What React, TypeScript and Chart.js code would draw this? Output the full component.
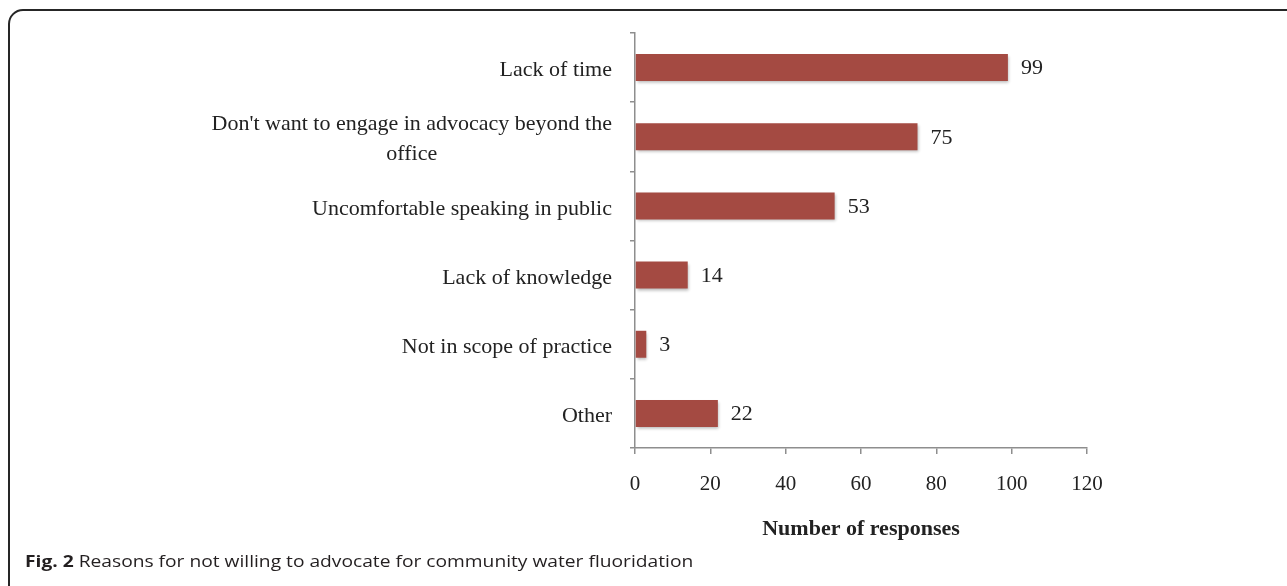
import React, { useEffect, useRef } from "react";
import { Chart, registerables } from "chart.js";

Chart.register(...registerables);

const categories: string[][] = [
  ["Lack of time"],
  ["Don't want to engage in advocacy beyond the", "office"],
  ["Uncomfortable speaking in public"],
  ["Lack of knowledge"],
  ["Not in scope of practice"],
  ["Other"],
];
const responses: number[] = [99, 75, 53, 14, 3, 22];
const xTicks: number[] = [0, 20, 40, 60, 80, 100, 120];
const xTitle = "Number of responses";
const captionBold = "Fig. 2";
const captionText = " Reasons for not willing to advocate for community water fluoridation";

const SERIF = "'Liberation Serif', 'Times New Roman', serif";
const TEXT = "#222222";
const BAR = "#A44A42";
const AXIS = "#8E8E8E";

const shadowPlugin = {
  id: "barShadow",
  beforeDatasetsDraw(chart: any) {
    const ctx = chart.ctx;
    ctx.save();
    ctx.shadowColor = "rgba(0,0,0,0.28)";
    ctx.shadowBlur = 3;
    ctx.shadowOffsetX = 1;
    ctx.shadowOffsetY = 2;
  },
  afterDatasetsDraw(chart: any) {
    chart.ctx.restore();
  },
};

const labelPlugin = {
  id: "customLabels",
  afterDraw(chart: any) {
    const ctx = chart.ctx;
    const yScale = chart.scales.y;
    const meta = chart.getDatasetMeta(0);
    ctx.save();
    ctx.fillStyle = TEXT;
    ctx.font = `22px ${SERIF}`;
    ctx.textBaseline = "middle";
    const right = yScale.right - 23;
    const lh = 30;
    categories.forEach((lines, i) => {
      const yc = yScale.getPixelForTick(i);
      const widths = lines.map((l) => ctx.measureText(l).width);
      const maxW = Math.max(...widths);
      const cx = right - maxW / 2;
      const y0 = yc - ((lines.length - 1) * lh) / 2 + 2;
      lines.forEach((l, j) => {
        ctx.textAlign = lines.length > 1 ? "center" : "right";
        ctx.fillText(l, lines.length > 1 ? cx : right, y0 + j * lh + (lines.length > 1 ? 0 : 1));
      });
    });
    // data labels
    ctx.textAlign = "left";
    meta.data.forEach((bar: any, i: number) => {
      ctx.fillText(String(responses[i]), bar.x + 13, bar.y + 1);
    });
    ctx.restore();
  },
};

export default function App() {
  const canvasRef = useRef<HTMLCanvasElement | null>(null);

  useEffect(() => {
    if (!canvasRef.current) return;
    const chart = new Chart(canvasRef.current, {
      type: "bar",
      data: {
        labels: categories.map((c) => c.join(" ")),
        datasets: [
          {
            data: responses,
            backgroundColor: BAR,
            borderWidth: 0,
            barPercentage: 0.39,
            categoryPercentage: 1,
          },
        ],
      },
      plugins: [shadowPlugin, labelPlugin],
      options: {
        indexAxis: "y",
        animation: false,
        responsive: false,
        maintainAspectRatio: false,
        layout: { padding: { left: 0, right: 200, top: 33, bottom: 43 } },
        plugins: {
          legend: { display: false },
          tooltip: { enabled: false },
          title: { display: false },
        },
        scales: {
          x: {
            type: "linear",
            min: xTicks[0],
            max: xTicks[xTicks.length - 1],
            afterBuildTicks: (scale: any) => {
              scale.ticks = xTicks.map((v) => ({ value: v }));
            },
            afterFit: (scale: any) => {
              scale.height = 95;
            },
            grid: {
              drawOnChartArea: false,
              drawTicks: true,
              tickLength: 6,
              color: AXIS,
              lineWidth: 1.5,
            },
            border: { color: AXIS, width: 1.5 },
            ticks: {
              color: TEXT,
              font: { family: SERIF, size: 21 },
              padding: 18,
              maxRotation: 0,
            },
            title: {
              display: true,
              text: xTitle,
              color: TEXT,
              font: { family: SERIF, size: 22, weight: "bold" },
              padding: { top: 0, bottom: 0 },
            },
          },
          y: {
            type: "category",
            afterFit: (scale: any) => {
              scale.width = 635;
            },
            grid: {
              drawOnChartArea: false,
              drawTicks: true,
              tickLength: 5,
              color: AXIS,
              lineWidth: 1.5,
              offset: true,
            },
            border: { color: AXIS, width: 1.5 },
            ticks: { display: false },
          },
        },
      } as any,
    });
    return () => chart.destroy();
  }, []);

  return (
    <div
      style={{
        position: "absolute",
        left: 0,
        top: 0,
        width: 1287,
        height: 586,
        background: "#ffffff",
        overflow: "hidden",
      }}
    >
      <div
        style={{
          position: "absolute",
          left: 8,
          top: 9,
          width: 1300,
          height: 600,
          border: "2px solid #262626",
          borderRadius: 15,
          boxSizing: "border-box",
        }}
      />
      <canvas
        ref={canvasRef}
        width={1287}
        height={586}
        style={{ position: "absolute", left: 0, top: 0, width: 1287, height: 586 }}
      />
      <div
        style={{
          position: "absolute",
          left: 25,
          top: 550,
          fontFamily: "'Open Sans', sans-serif",
          fontSize: 16,
          color: "#231f20",
          whiteSpace: "nowrap",
          lineHeight: "22px",
          transform: "scaleX(1.2)",
          transformOrigin: "left center",
        }}
      >
        <b>{captionBold}</b>
        {captionText}
      </div>
    </div>
  );
}
